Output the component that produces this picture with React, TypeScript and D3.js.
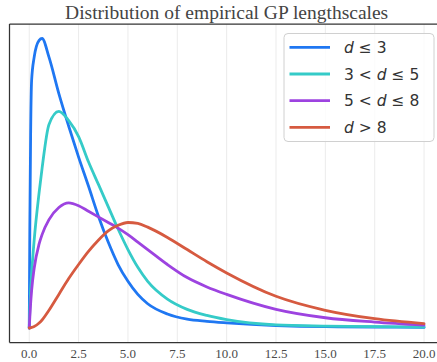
import React from 'react';
import * as d3 from 'd3';

// sample positions (lengthscale) shared by all curves
const lengthscales = [0, 0.03, 0.07, 0.12, 0.25, 0.5, 0.65, 1, 1.5, 2, 2.5, 3, 3.5, 4, 4.5, 5, 5.5, 6, 7, 8, 9, 10, 12.5, 15, 17.5, 20];

// densities
const dLe3 = [0, 0.107, 0.207, 0.265, 0.29, 0.308, 0.31, 0.29, 0.251, 0.216, 0.183, 0.152, 0.12, 0.092, 0.068, 0.05, 0.036, 0.026, 0.015, 0.0095, 0.0072, 0.0056, 0.0027, 0.0014, 0.0011, 0.0007];
const d3to5 = [0, 0.02, 0.04, 0.058, 0.094, 0.145, 0.171, 0.218, 0.232, 0.222, 0.205, 0.178, 0.154, 0.13, 0.106, 0.084, 0.065, 0.05, 0.031, 0.02, 0.0135, 0.009, 0.0034, 0.0021, 0.0014, 0.0011];
const d5to8 = [0, 0.012, 0.026, 0.04, 0.064, 0.09, 0.1, 0.116, 0.129, 0.134, 0.131, 0.125, 0.119, 0.113, 0.107, 0.1, 0.092, 0.084, 0.068, 0.054, 0.044, 0.036, 0.02, 0.011, 0.0064, 0.0032];
const dGt8 = [0, 0, 0.0003, 0.0006, 0.0016, 0.0053, 0.0086, 0.019, 0.036, 0.053, 0.068, 0.082, 0.094, 0.104, 0.11, 0.113, 0.112, 0.108, 0.097, 0.084, 0.071, 0.059, 0.034, 0.019, 0.01, 0.0048];

const xTicks = [0, 2.5, 5, 7.5, 10, 12.5, 15, 17.5, 20];

const series = [
  { pre: '', post: ' ≤ 3', values: dLe3, color: '#1f77f2' },
  { pre: '3 < ', post: ' ≤ 5', values: d3to5, color: '#35cbc8' },
  { pre: '5 < ', post: ' ≤ 8', values: d5to8, color: '#9d43e0' },
  { pre: '', post: ' > 8', values: dGt8, color: '#d65a40' },
];

const W = 437;
const H = 362;

export default function App() {
  const left = 9.5, right = 443.8, top = 24, bottom = 342.5;

  const x = d3.scaleLinear().domain([-1, 21]).range([left, right]);
  const y = d3.scaleLinear().domain([-0.0155, 0.3255]).range([bottom, top]);

  const line = d3.line<number>()
    .x((_, i) => x(lengthscales[i]))
    .y(d => y(d))
    .curve(d3.curveMonotoneX);

  const lgX = 284, lgY = 33.5, lgW = 150, lgH = 108;

  return (
    <svg width={W} height={H} style={{ position: 'absolute', left: 0, top: 0, background: '#fff' }}>
      <defs>
        <clipPath id="plot">
          <rect x={left} y={top} width={right - left} height={bottom - top} />
        </clipPath>
      </defs>
      {xTicks.map(t => (
        <line key={t} x1={x(t)} x2={x(t)} y1={top} y2={bottom} stroke="#ebebeb" strokeWidth={1} />
      ))}
      <g clipPath="url(#plot)">
        {series.map((s, i) => (
          <path key={i} d={line(s.values) || ''} fill="none" stroke={s.color}
            strokeWidth={2.8} strokeLinejoin="round" strokeLinecap="round" />
        ))}
      </g>
      <line x1={left} x2={left} y1={top} y2={bottom} stroke="#333" strokeWidth={1.25} />
      <line x1={left} x2={right} y1={top} y2={top} stroke="#333" strokeWidth={1.25} />
      <line x1={left} x2={right} y1={bottom} y2={bottom} stroke="#333" strokeWidth={1.25} />
      {xTicks.map(t => (
        <text key={t} x={x(t)} y={357.5} textAnchor="middle" fontFamily="Liberation Serif"
          fontSize={13} fill="#4a4a4a">{t.toFixed(1)}</text>
      ))}
      <text x={(left + right) / 2} y={18.5} textAnchor="middle" fontFamily="Liberation Serif"
        fontSize={19.5} fill="#444">Distribution of empirical GP lengthscales</text>

      <rect x={lgX} y={lgY} width={lgW} height={lgH} rx={4} fill="#fff" fillOpacity={0.8}
        stroke="#d0d0d0" strokeWidth={1} />
      {series.map((s, i) => {
        const cy = 47.3 + i * 26.7;
        return (
          <g key={i}>
            <line x1={289.5} x2={330} y1={cy} y2={cy} stroke={s.color} strokeWidth={2.8} />
            <text x={344} y={cy + 5.5} fontFamily="DejaVu Sans" fontSize={15.5} fill="#333">
              {s.pre}<tspan fontStyle="italic">d</tspan>{s.post}
            </text>
          </g>
        );
      })}
    </svg>
  );
}
